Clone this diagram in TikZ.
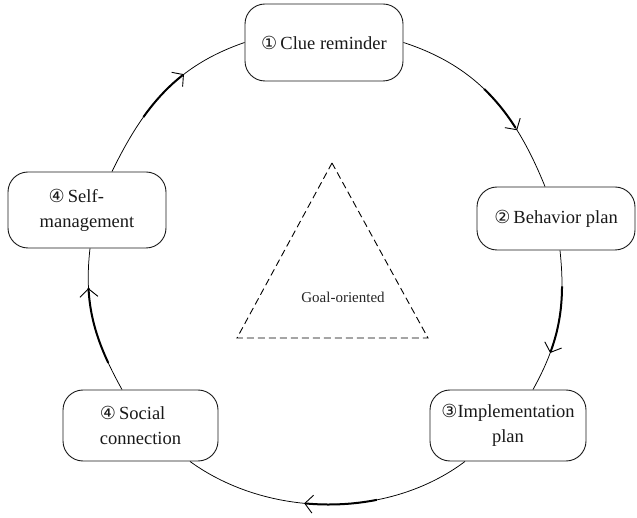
\documentclass[tikz,border=0pt]{standalone}
\usepackage{fontspec}
\setmainfont{Liberation Serif}
\newfontfamily\circfont{DejaVu Sans}
\usetikzlibrary{arrows.meta,decorations.markings}
\newcommand{\cnum}[1]{{\circfont\fontsize{18}{18}\selectfont #1}}
\begin{document}
\begin{tikzpicture}[x=1pt,y=1pt,
  box/.style={draw=black!90, line width=0.9pt, rounded corners=20pt, inner sep=0pt,
    font=\rmfamily\fontsize{18.5}{25}\selectfont, text=black!90},
  conn/.style={draw=black, line width=0.75pt},
  arrowat/.style={postaction={decorate, decoration={markings,
    mark=at position #1 with {\arrow{Straight Barb[length=8pt,width=18pt,line width=0.9pt]}}}}},
  thickseg/.style 2 args={postaction={draw=black, line width=2pt,
    dash pattern=on 0pt off #1 on #2 off 2000pt}},
  goalline/.style={draw=black, line width=0.9pt, dash pattern=on 7pt off 4pt}
]
\useasboundingbox (0,0) rectangle (637,517);

\node[box, minimum width=158pt, minimum height=77pt] (clue) at (324,474.5)
  {\cnum{①}\,Clue reminder};
\node[box, minimum width=158pt, minimum height=63pt] (behavior) at (556,298.5)
  {\cnum{②}\,Behavior plan};
\node[box, minimum width=156pt, minimum height=71pt, align=center] (impl) at (508,91.5)
  {\cnum{③}Implementation\\plan};
\node[box, minimum width=155pt, minimum height=71pt, align=left] (social) at (140.5,91.5)
  {\cnum{④}\,Social\\connection};
\node[box, minimum width=158pt, minimum height=76pt, align=left] (self) at (87,307)
  {\hspace{9pt}\cnum{④}\,Self-\\management};

\draw[conn, thickseg={94pt}{50pt}, arrowat=0.7]
  (clue.east) to[out=-18,in=112] ([xshift=-11pt]behavior.north);
\draw[conn, thickseg={36pt}{67pt}, arrowat=0.72]
  ([xshift=4pt]behavior.south) to[out=-84,in=61] ([xshift=25pt]impl.north);
\draw[conn, thickseg={97pt}{71pt}, arrowat=0.58]
  ([xshift=-43pt]impl.south) to[out=217,in=-36,looseness=0.9] ([xshift=49.5pt]social.south);
\draw[conn, thickseg={30pt}{78pt}, arrowat=0.73]
  ([xshift=-18.5pt]social.north) to[out=119,in=-96.5] ([xshift=3pt]self.south);
\draw[conn, thickseg={63pt}{57pt}, arrowat=0.64]
  ([xshift=25pt]self.north) to[out=64,in=199] (clue.west);

\draw[goalline] (332,354) -- (237,179) -- (428,179) -- cycle;
\node[font=\rmfamily\fontsize{15}{18}\selectfont, text=black!85] (goal) at (343,220) {Goal-oriented};
\end{tikzpicture}
\end{document}
